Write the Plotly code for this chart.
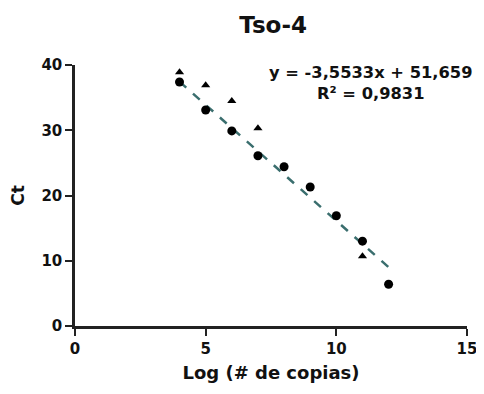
import plotly.graph_objects as go

# Data
x_circles = [4, 5, 6, 7, 8, 9, 10, 11, 12]
ct_circles = [37.4, 33.1, 29.9, 26.1, 24.4, 21.3, 16.9, 13.0, 6.4]
x_triangles = [4, 5, 6, 7, 11]
ct_triangles = [38.9, 36.9, 34.5, 30.3, 10.7]
slope = -3.5533
intercept = 51.659
fit_x = [4, 12]
fit_y = [slope * v + intercept for v in fit_x]
x_ticks = [0, 5, 10, 15]
y_ticks = [0, 10, 20, 30, 40]

FONT = "DejaVu Sans, Liberation Sans, Arial, sans-serif"

fig = go.Figure()
fig.add_trace(go.Scatter(x=fit_x, y=fit_y, mode="lines",
                         line=dict(color="#3a6e6e", width=2.5, dash="dash"),
                         showlegend=False))
fig.add_trace(go.Scatter(x=x_triangles, y=ct_triangles, mode="markers",
                         marker=dict(symbol="triangle-up", size=8, color="black"),
                         showlegend=False))
fig.add_trace(go.Scatter(x=x_circles, y=ct_circles, mode="markers",
                         marker=dict(symbol="circle", size=9, color="black"),
                         showlegend=False))

fig.add_annotation(x=0.755, y=1.015, xref="paper", yref="paper",
                   text="<b>y = -3,5533x + 51,659<br>R² = 0,9831</b>",
                   showarrow=False, align="center", xanchor="center", yanchor="top",
                   font=dict(family=FONT, size=16.3, color="#111"))

axis_common = dict(showgrid=False, zeroline=False, showline=True, linecolor="#222",
                   linewidth=2.5, ticks="outside", tickwidth=2, ticklen=7,
                   tickcolor="#222", automargin=False,
                   tickfont=dict(family=FONT, size=15, color="#111", weight="bold"))

# page body has an 8px default margin; the figure starts 8px in from the top-left
fig.update_layout(
    width=476, height=378,
    margin=dict(l=67, r=17, t=57, b=60),
    paper_bgcolor="white", plot_bgcolor="white",
    title=dict(text="<b>Tso-4</b>", x=0.557, xanchor="center", y=0.955, yanchor="middle",
               font=dict(family=FONT, size=23, color="#111")),
    xaxis=dict(range=[0, 15], tickvals=x_ticks,
               title=dict(text="<b>Log (# de copias)</b>", standoff=10,
                          font=dict(family=FONT, size=18, color="#111")),
               **axis_common),
    yaxis=dict(range=[0, 40], tickvals=y_ticks,
               title=dict(text="<b>Ct</b>", standoff=16,
                          font=dict(family=FONT, size=17, color="#111")),
               **axis_common),
)

fig.write_html("out.html")
